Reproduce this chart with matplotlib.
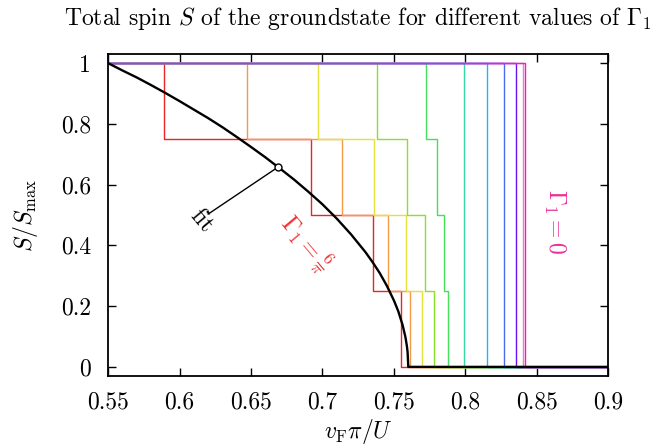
import matplotlib
matplotlib.use("Agg")
from matplotlib import pyplot as plt

plt.rcParams["font.family"] = "serif"
plt.rcParams["font.serif"] = ["cmr10"]
plt.rcParams["mathtext.fontset"] = "cm"
plt.rcParams["axes.unicode_minus"] = False

X_START = 0.55
X_END = 0.9

# x positions where S/S_max drops one level, for each Gamma_1 (6/pi ... 0)
drops = [
    [0.5894, 0.6922, 0.7351, 0.7549],
    [0.6472, 0.7139, 0.7457, 0.7613],
    [0.6966, 0.7362, 0.7584, 0.7693],
    [0.7378, 0.7588, 0.7717, 0.7782],
    [0.7721, 0.7801, 0.7852, 0.7875],
    [0.7989],
    [0.8147],
    [0.8271],
    [0.8355],
    [0.8403],
    [0.8418],
]
colors = ["#e82424", "#f29a48", "#e2e23a", "#8ae02a", "#44e05a", "#34d8a6",
          "#1cb8f0", "#4c6cf0", "#6414f0", "#f078d8", "#f020b4"]
levels_4 = [1, 0.75, 0.5, 0.25, 0]
levels_1 = [1, 0]

# fit curve
fit_x = [0.55, 0.56, 0.57, 0.58, 0.59, 0.60, 0.61, 0.62, 0.63, 0.64, 0.65,
         0.66, 0.67, 0.68, 0.69, 0.70, 0.71, 0.72, 0.73, 0.735, 0.74, 0.745,
         0.75, 0.753, 0.756, 0.758, 0.759, 0.7595, 0.76, 0.9]
fit_y = [1.0, 0.976, 0.953, 0.928, 0.902, 0.875, 0.847, 0.819, 0.789, 0.757,
         0.724, 0.690, 0.654, 0.617, 0.577, 0.535, 0.488, 0.436, 0.378, 0.345,
         0.309, 0.267, 0.218, 0.183, 0.138, 0.098, 0.069, 0.049, 0.0, 0.0]
fit_mark = (0.669, 0.658)
fit_label = (0.6213, 0.507)

xticks = [0.55, 0.6, 0.65, 0.7, 0.75, 0.8, 0.85, 0.9]
xticklabels = ["0.55", "0.6", "0.65", "0.7", "0.75", "0.8", "0.85", "0.9"]
yticks = [0, 0.2, 0.4, 0.6, 0.8, 1]
yticklabels = ["0", "0.2", "0.4", "0.6", "0.8", "1"]

FS = 17

fig = plt.figure(figsize=(6.52, 4.45), dpi=100)
ax = fig.add_axes([108 / 652, 1 - 376 / 445, 500.5 / 652, 322 / 445])

for d, c in zip(drops, colors):
    lev = levels_4 if len(d) == 4 else levels_1
    xs = [X_START] + d + [X_END]
    ys = lev + [0]
    ax.plot(xs, ys, drawstyle="steps-post", color=c, lw=1.0)

ax.plot(fit_x, fit_y, color="black", lw=1.7)
ax.plot([fit_mark[0], fit_label[0]], [fit_mark[1], fit_label[1]],
        color="black", lw=1.0)
ax.plot(*fit_mark, marker="o", ms=5, mfc="white", mec="black", mew=1.0)

ax.text(0.6155, 0.48, "fit", rotation=-50, ha="center", va="center",
        fontsize=FS)
ax.text(0.688, 0.405, r"$\Gamma_1 = \frac{6}{\pi}$", rotation=-50,
        ha="center", va="center", fontsize=FS, color="#f03030")
ax.text(0.862, 0.48, r"$\Gamma_1 = 0$", rotation=-90, ha="center",
        va="center", fontsize=FS, color="#e8309a")

ax.set_xlim(X_START, X_END)
ax.set_ylim(-0.03, 1.03)
ax.set_xticks(xticks)
ax.set_xticklabels(xticklabels)
ax.set_yticks(yticks)
ax.set_yticklabels(yticklabels)
ax.tick_params(direction="in", top=True, right=True, length=6, width=1.0,
               labelsize=FS)
ax.tick_params(axis="x", pad=11)
ax.tick_params(axis="y", pad=12)
for s in ax.spines.values():
    s.set_linewidth(1.3)

fig.text(358 / 652, 1 - 18 / 445,
         r"Total spin $S$ of the groundstate for different values of $\Gamma_1$",
         ha="center", va="center", fontsize=FS)
fig.text(358 / 652, 1 - 431 / 445, r"$v_{\rm F}\pi/U$", ha="center",
         va="center", fontsize=FS)
fig.text(26 / 652, 1 - 215 / 445, r"$S/S_{\max}$", ha="center", va="center",
         rotation=90, fontsize=FS)

fig.savefig("out.png", dpi=100)
